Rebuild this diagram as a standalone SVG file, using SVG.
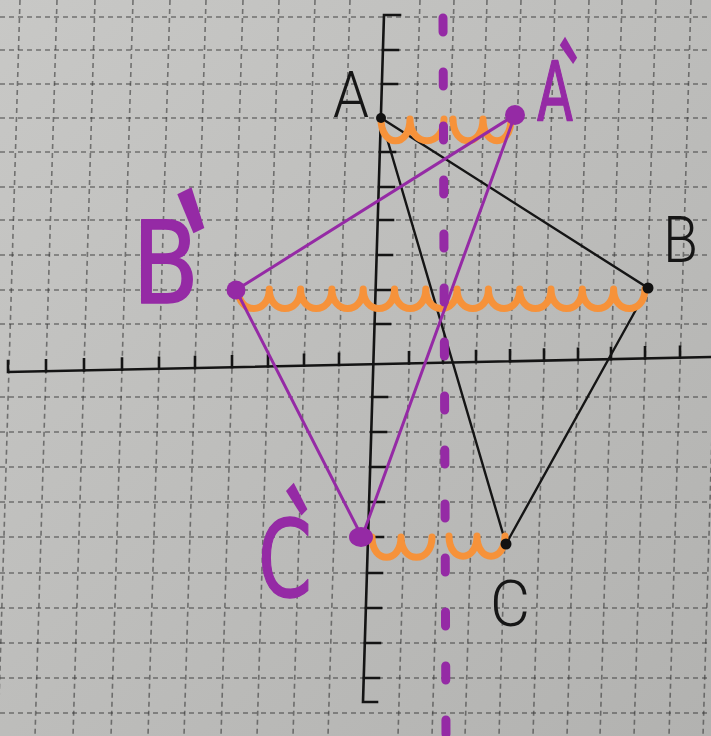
<svg xmlns="http://www.w3.org/2000/svg" width="711" height="736" viewBox="0 0 711 736">
<defs>
<linearGradient id="paper" x1="0" y1="0" x2="1" y2="1">
<stop offset="0" stop-color="#c8c8c6"/>
<stop offset="0.5" stop-color="#bdbdbb"/>
<stop offset="1" stop-color="#b2b2b0"/>
</linearGradient>
<style>
.grid{fill:none;stroke:#333;stroke-width:1.6;stroke-dasharray:5 4;opacity:0.58}
.axis{fill:none;stroke:#141414;stroke-width:2.6;stroke-linecap:square}
.blk{fill:none;stroke:#151515;stroke-width:2.4}
.pur{fill:none;stroke:#952aa5;stroke-width:3;stroke-linecap:round}
.org{fill:none;stroke:#f6923a;stroke-width:7;stroke-linecap:round;stroke-linejoin:round}
.sym{fill:none;stroke:#952aa5;stroke-width:9;stroke-linecap:round;stroke-dasharray:14 40}
.bl{font-family:Roboto,"Liberation Sans",sans-serif;font-weight:300;font-size:64px;fill:#161616}
.pl{font-family:"DejaVu Sans","Liberation Sans",sans-serif;fill:#952aa5;stroke:#952aa5;stroke-width:1.5;stroke-linejoin:round}
.pr{font-family:"Liberation Sans",sans-serif;stroke:none}
.pdot{fill:#952aa5}
.bdot{fill:#121212}
</style>
</defs>
<rect width="711" height="736" fill="url(#paper)"/>
<g id="grid">
<path class="grid" d="M20,0L-2,736M57,0L35,736M95,0L73,736M133,0L111,736M170,0L148,736M206,0L184,736M243,0L221,736M279,0L257,736M315,0L293,736M350,0L328,736M420,0L398,736M454,0L432,736M487,0L465,736M521,0L499,736M555,0L533,736M589,0L567,736M622,0L600,736M656,0L634,736M691,0L669,736M725,0L703,736"/>
<path class="grid" d="M0,17H711M0,50H711M0,84H711M0,118H711M0,152H711M0,187H711M0,220H711M0,255H711M0,290H711M0,324H711M0,397H711M0,432H711M0,467H711M0,502H711M0,537H711M0,573H711M0,608H711M0,643H711M0,678H711M0,713H711"/>
</g>
<g id="axes">
<path class="axis" d="M8,361L8,372L711,357"/>
<path class="axis" d="M46,371.2V360.2M84,370.4V359.4M122,369.6V358.6M159,368.8V357.8M195,368V357M232,367.2V356.2M268,366.5V355.5M304,365.7V354.7M339,364.9V353.9M409,363.4V352.4M443,362.7V351.7M476,362V351M510,361.3V350.3M544,360.6V349.6M578,359.8V348.8M611,359.1V348.1M645,358.4V347.4M680,357.7V346.7"/>
<path class="axis" d="M400,15L384,15L363,702L377,702"/>
<path class="axis" d="M383,50H398M382,84H397M380,152H395M379,187H394M378,220H393M377,255H392M376,290H391M375,324H390M372,397H387M371,432H386M370,467H385M369,502H384M368,537H383M367,573H382M366,608H381M365,643H380M364,678H379"/>
</g>
<g id="connectors">
<path class="blk" d="M381,118L648,288L506,544Z"/>
<path class="org" d="M381,119c0,29 29,29 29,0c0,29 34,29 34,0M453,119c0,29 30,29 30,0c0,29 28,29 28,0"/>
<path class="org" d="M238,289c0,26 31.3,26 31.3,0c0,26 31.3,26 31.3,0c0,26 31.3,26 31.3,0c0,26 31.3,26 31.3,0c0,26 31.3,26 31.3,0c0,26 31.3,26 31.3,0c0,26 31.3,26 31.3,0c0,26 31.3,26 31.3,0c0,26 31.3,26 31.3,0c0,26 31.3,26 31.3,0c0,26 31.3,26 31.3,0c0,26 31.3,26 31.3,0c0,26 31.3,26 31.3,0"/>
<path class="org" d="M372,537c0,27 29,27 29,0c0,27 31,27 31,0M449,536c0,27 28,27 28,0c0,27 28,27 28,0"/>
<path class="pur" d="M515,115L236,290L362,537Z"/>
<path class="sym" d="M443,18L446,736"/>
</g>
<g id="node-A">
<circle class="bdot" cx="381" cy="118" r="5"/>
<text class="bl" x="333" y="117" textLength="36" lengthAdjust="spacingAndGlyphs">A</text>
</g>
<g id="node-B">
<circle class="bdot" cx="648" cy="288" r="5.5"/>
<text class="bl" x="663" y="262" textLength="35" lengthAdjust="spacingAndGlyphs">B</text>
</g>
<g id="node-C">
<circle class="bdot" cx="506" cy="544" r="5.5"/>
<text class="bl" x="490" y="626" textLength="40" lengthAdjust="spacingAndGlyphs">C</text>
</g>
<g id="node-A2">
<circle class="pdot" cx="515" cy="115" r="10"/>
<text class="pl" font-size="82" transform="translate(537,120) scale(0.64,1)">A<tspan class="pr" font-size="130" dx="38" dy="-7" rotate="-45">'</tspan></text>
</g>
<g id="node-B2">
<circle class="pdot" cx="236" cy="290" r="9.5"/>
<text class="pl" font-size="114" transform="translate(132,303) scale(0.86,1)">B<tspan class="pr" font-size="200" dx="19" dy="22" rotate="-23">'</tspan></text>
</g>
<g id="node-C2">
<ellipse class="pdot" cx="361" cy="537" rx="12" ry="10"/>
<text class="pl" font-size="106" transform="translate(258,596) scale(0.73,1)">C<tspan class="pr" font-size="150" dx="22" dy="-19" rotate="-38">'</tspan></text>
</g>
</svg>
